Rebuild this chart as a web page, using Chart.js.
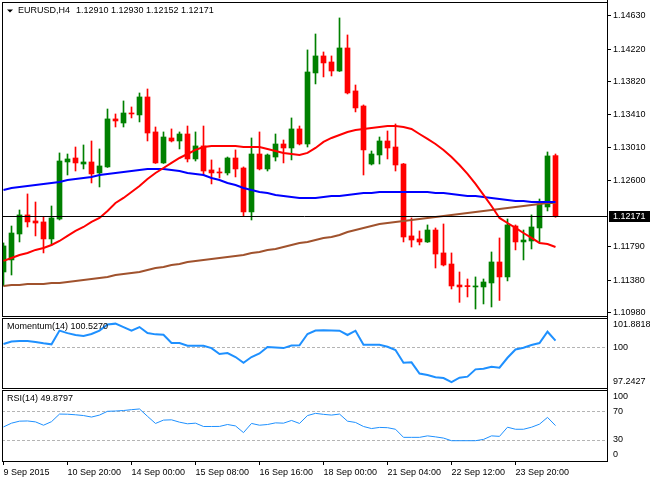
<!DOCTYPE html>
<html>
<head>
<meta charset="utf-8">
<title>EURUSD,H4</title>
<script src="https://cdn.jsdelivr.net/npm/chart.js@4.4.0/dist/chart.umd.min.js"></script>
<style>
html, body { margin: 0; padding: 0; background: #fff; }
#wrap { position: relative; width: 650px; height: 480px; overflow: hidden; }
.pane { position: absolute; left: 0; width: 650px; }
</style>
</head>
<body>
<div id="wrap">
  <div class="pane" style="top:0;height:317px"><canvas id="priceChart"></canvas></div>
  <div class="pane" style="top:317px;height:72px"><canvas id="momChart"></canvas></div>
  <div class="pane" style="top:389px;height:91px"><canvas id="rsiChart"></canvas></div>
</div>
<script>
// ================== DATA ==================
const symbol = 'EURUSD,H4';

const opens = [
  1.11480, 1.11628, 1.11947, 1.12181, 1.12107, 1.12095, 1.11886, 1.12131, 1.12832, 1.12881,
  1.12807, 1.12832, 1.12697, 1.12771, 1.13361, 1.13311, 1.13434, 1.13410, 1.13631, 1.13201,
  1.12820, 1.13127, 1.13090, 1.13176, 1.12869, 1.13029, 1.12734, 1.12709, 1.12697, 1.12881,
  1.12758, 1.12218, 1.12930, 1.12746, 1.12893, 1.13053, 1.13004, 1.13238, 1.13053, 1.13926,
  1.14135, 1.14061, 1.13950, 1.14233, 1.13705, 1.13520, 1.12807, 1.12918, 1.13090, 1.13016,
  1.12807, 1.11923, 1.11886, 1.11849, 1.11996, 1.11714, 1.11578, 1.11320, 1.11308, 1.11296,
  1.11296, 1.11345, 1.11603, 1.11419, 1.12045, 1.11849, 1.11861, 1.12021, 1.12279, 1.12910
];
const highs = [
  1.11837, 1.12045, 1.12242, 1.12439, 1.12340, 1.12156, 1.12291, 1.12943, 1.12930, 1.13016,
  1.13041, 1.13090, 1.12992, 1.13483, 1.13422, 1.13582, 1.13508, 1.13680, 1.13729, 1.13262,
  1.13201, 1.13238, 1.13201, 1.13274, 1.13201, 1.13274, 1.12857, 1.12758, 1.12893, 1.12980,
  1.12771, 1.13127, 1.13201, 1.12930, 1.13176, 1.13102, 1.13373, 1.13274, 1.14209, 1.14405,
  1.14184, 1.14135, 1.14602, 1.14393, 1.13778, 1.13533, 1.12967, 1.13139, 1.13213, 1.13299,
  1.12814, 1.12144, 1.11984, 1.12058, 1.12021, 1.12070, 1.11714, 1.11480, 1.11394, 1.11419,
  1.11394, 1.11726, 1.11898, 1.12132, 1.12058, 1.11996, 1.12181, 1.12377, 1.12955, 1.12930
];
const lows = [
  1.11308, 1.11443, 1.11849, 1.12033, 1.11923, 1.11714, 1.11812, 1.12119, 1.12672, 1.12721,
  1.12746, 1.12574, 1.12525, 1.12765, 1.13262, 1.13262, 1.13373, 1.13324, 1.13090, 1.12814,
  1.12814, 1.13078, 1.12992, 1.12832, 1.12844, 1.12672, 1.12562, 1.12635, 1.12672, 1.12648,
  1.12168, 1.12119, 1.12734, 1.12721, 1.12844, 1.12820, 1.12857, 1.13041, 1.13016, 1.13791,
  1.13877, 1.13889, 1.13944, 1.13668, 1.13447, 1.12672, 1.12795, 1.12807, 1.12869, 1.12721,
  1.11849, 1.11787, 1.11812, 1.11843, 1.11529, 1.11554, 1.11271, 1.11107, 1.11173, 1.11025,
  1.11087, 1.11050, 1.11130, 1.11370, 1.11751, 1.11628, 1.11763, 1.11837, 1.12230, 1.12152
];
const closes = [
  1.11800, 1.11959, 1.12181, 1.12095, 1.12082, 1.11886, 1.12144, 1.12844, 1.12869, 1.12820,
  1.12832, 1.12685, 1.12783, 1.13361, 1.13336, 1.13434, 1.13422, 1.13631, 1.13188, 1.12820,
  1.13139, 1.13090, 1.13176, 1.12869, 1.13029, 1.12721, 1.12697, 1.12697, 1.12881, 1.12746,
  1.12218, 1.12930, 1.12746, 1.12918, 1.13053, 1.13004, 1.13238, 1.13053, 1.13938, 1.14135,
  1.14049, 1.13950, 1.14233, 1.13680, 1.13496, 1.12980, 1.12930, 1.13090, 1.13004, 1.12795,
  1.11910, 1.11873, 1.11849, 1.11996, 1.11701, 1.11566, 1.11308, 1.11296, 1.11300, 1.11308,
  1.11357, 1.11603, 1.11419, 1.12058, 1.11849, 1.11873, 1.12033, 1.12316, 1.12906, 1.12171
];

// moving averages (red / blue / brown)
const maRed = [
  1.11616, 1.11652, 1.11689, 1.11714, 1.11751, 1.11775, 1.11812, 1.11861, 1.11923, 1.11984,
  1.12033, 1.12095, 1.12144, 1.12230, 1.12328, 1.12390, 1.12463, 1.12537, 1.12623, 1.12697,
  1.12758, 1.12820, 1.12881, 1.12930, 1.12980, 1.13016, 1.13029, 1.13029, 1.13029, 1.13029,
  1.13016, 1.13016, 1.13016, 1.12992, 1.12967, 1.12943, 1.12930, 1.12918, 1.12943, 1.13004,
  1.13078, 1.13127, 1.13164, 1.13201, 1.13225, 1.13238, 1.13250, 1.13262, 1.13274, 1.13274,
  1.13262, 1.13238, 1.13176, 1.13115, 1.13053, 1.12980, 1.12893, 1.12795, 1.12685, 1.12562,
  1.12427, 1.12291, 1.12144, 1.12082, 1.12021, 1.11959, 1.11898, 1.11837, 1.11824, 1.11787
];
const maBlue = [
  1.12488, 1.12513, 1.12525, 1.12537, 1.12549, 1.12562, 1.12574, 1.12586, 1.12611, 1.12623,
  1.12635, 1.12648, 1.12672, 1.12685, 1.12697, 1.12709, 1.12721, 1.12734, 1.12746, 1.12746,
  1.12746, 1.12734, 1.12721, 1.12697, 1.12685, 1.12672, 1.12635, 1.12611, 1.12574, 1.12549,
  1.12513, 1.12488, 1.12463, 1.12451, 1.12427, 1.12414, 1.12402, 1.12390, 1.12390, 1.12390,
  1.12402, 1.12414, 1.12414, 1.12427, 1.12439, 1.12451, 1.12451, 1.12463, 1.12463, 1.12463,
  1.12463, 1.12463, 1.12463, 1.12463, 1.12451, 1.12451, 1.12439, 1.12427, 1.12414, 1.12414,
  1.12402, 1.12390, 1.12377, 1.12365, 1.12353, 1.12353, 1.12340, 1.12340, 1.12340, 1.12340
];
const maBrown = [
  1.11308, 1.11320, 1.11320, 1.11333, 1.11333, 1.11333, 1.11345, 1.11345, 1.11357, 1.11370,
  1.11382, 1.11394, 1.11407, 1.11419, 1.11443, 1.11456, 1.11468, 1.11480, 1.11505, 1.11529,
  1.11541, 1.11566, 1.11578, 1.11603, 1.11616, 1.11628, 1.11640, 1.11652, 1.11665, 1.11677,
  1.11689, 1.11714, 1.11726, 1.11751, 1.11763, 1.11787, 1.11812, 1.11837, 1.11849, 1.11873,
  1.11898, 1.11910, 1.11935, 1.11972, 1.11996, 1.12021, 1.12045, 1.12070, 1.12082, 1.12095,
  1.12107, 1.12119, 1.12132, 1.12144, 1.12156, 1.12168, 1.12181, 1.12193, 1.12205, 1.12218,
  1.12230, 1.12242, 1.12254, 1.12267, 1.12279, 1.12291, 1.12304, 1.12316, 1.12328, 1.12328
];

const momentum = [
  100.26, 100.46, 100.50, 100.50, 100.42, 100.32, 100.24, 101.33, 101.13, 100.98,
  100.90, 101.06, 101.33, 101.81, 101.8818, 101.61, 101.32, 101.61, 101.13, 101.03,
  101.00, 100.34, 100.34, 100.13, 100.13, 100.13, 99.94, 99.47, 99.55, 99.23,
  98.78, 99.23, 99.51, 100.02, 99.98, 99.94, 100.14, 100.16, 101.06, 101.33,
  101.35, 101.33, 101.32, 100.98, 101.32, 100.21, 100.21, 100.21, 100.05, 99.79,
  98.78, 98.81, 97.92, 97.80, 97.62, 97.56, 97.2427, 97.59, 97.67, 98.25,
  98.30, 98.46, 98.38, 99.17, 99.83, 99.97, 100.18, 100.34, 101.24, 100.5270
];
const rsi = [
  48.0, 53.3, 56.1, 56.4, 55.1, 50.4, 55.4, 66.1, 65.9, 65.1,
  64.0, 61.9, 64.7, 70.0, 70.4, 71.1, 72.3, 73.3, 62.9, 52.9,
  57.6, 58.0, 54.7, 52.4, 53.3, 48.6, 48.6, 48.7, 51.4, 49.4,
  40.0, 52.9, 50.4, 51.4, 53.7, 53.3, 57.1, 52.9, 64.0, 67.1,
  65.7, 64.7, 66.1, 56.1, 54.3, 48.6, 45.7, 47.3, 46.9, 44.7,
  33.3, 33.3, 33.3, 35.4, 34.0, 32.3, 28.6, 28.6, 28.6, 28.6,
  30.4, 35.4, 34.7, 47.6, 44.7, 44.7, 47.6, 51.9, 61.4, 49.8797
];

const timeTickIdx = [0, 8, 16, 24, 32, 40, 48, 56, 64];
const timeLabels = ['9 Sep 2015', '10 Sep 20:00', '14 Sep 00:00', '15 Sep 08:00', '16 Sep 16:00',
                    '18 Sep 00:00', '21 Sep 04:00', '22 Sep 12:00', '23 Sep 20:00'];

const priceTicks = [1.10980, 1.11380, 1.11790, 1.12600, 1.13010, 1.13410, 1.13820, 1.14220, 1.14630];
const momentumTicks = [101.8818, 100, 97.2427];
const momentumLevels = [100];
const rsiTicks = [100, 70, 30, 0];
const rsiLevels = [70, 30];

// ================== CONFIG ==================
Chart.defaults.font.family = '"Liberation Sans", Arial, sans-serif';
Chart.defaults.font.size = 9;
Chart.defaults.color = '#000';
Chart.defaults.animation = false;

const FONT = '9px "Liberation Sans", Arial, sans-serif';
const X_MIN = -0.1875, X_MAX = 75.4375;
const AXIS_W = 43;

const pts = arr => arr.map((v, i) => ({ x: i, y: v }));
const candleColors = closes.map((c, i) => c >= opens[i] ? '#008000' : '#ff0000');

function fixRightAxis(scale) {
    scale.width = AXIS_W;
    scale.paddingTop = 0;
    scale.paddingBottom = 0;
}

function hiddenX() {
    return { type: 'linear', min: X_MIN, max: X_MAX, offset: false, display: false };
}

function fmtLevel(v) {
    return Number.isInteger(v) ? String(v) : v.toFixed(4);
}

// ================== PLUGINS ==================
const frame = {
    id: 'frame',
    afterDraw(chart) {
        const { ctx, chartArea: a } = chart;
        ctx.save();
        ctx.strokeStyle = '#000';
        ctx.lineWidth = 1;
        ctx.strokeRect(Math.round(a.left) + 0.5, Math.round(a.top) + 0.5,
                       Math.round(a.right - a.left), Math.round(a.bottom - a.top));
        ctx.beginPath();
        ctx.moveTo(Math.round(a.right) + 0.5, 0);
        ctx.lineTo(Math.round(a.right) + 0.5, Math.round(a.bottom) + 1);
        ctx.stroke();
        ctx.restore();
    }
};

const paneTitle = {
    id: 'paneTitle',
    afterDraw(chart, args, opts) {
        if (!opts.text) return;
        const { ctx, chartArea: a } = chart;
        const y = a.top + 9;
        let x = a.left + 5;
        ctx.save();
        ctx.font = FONT;
        ctx.fillStyle = '#000';
        ctx.textBaseline = 'middle';
        if (opts.triangle) {
            ctx.beginPath();
            ctx.moveTo(x, y - 1.5);
            ctx.lineTo(x + 6, y - 1.5);
            ctx.lineTo(x + 3, y + 1.5);
            ctx.closePath();
            ctx.fill();
            x += 11;
        }
        ctx.fillText(opts.text, x, y);
        if (opts.values) {
            ctx.fillText(opts.values, x + ctx.measureText(opts.text).width + 6, y);
        }
        ctx.restore();
    }
};

const levels = {
    id: 'levels',
    beforeDatasetsDraw(chart, args, opts) {
        if (!opts.values) return;
        const { ctx, chartArea: a, scales } = chart;
        ctx.save();
        ctx.strokeStyle = '#b4b4b4';
        ctx.lineWidth = 1;
        ctx.setLineDash([3, 2]);
        opts.values.forEach(v => {
            const y = Math.round(scales.y.getPixelForValue(v)) + 0.5;
            ctx.beginPath();
            ctx.moveTo(a.left, y);
            ctx.lineTo(a.right, y);
            ctx.stroke();
        });
        ctx.restore();
    },
    afterDraw(chart, args, opts) {
        if (!opts.labels) return;
        const { ctx, chartArea: a, scales } = chart;
        ctx.save();
        ctx.font = FONT;
        ctx.fillStyle = '#000';
        ctx.textBaseline = 'middle';
        opts.labels.forEach(v => {
            const y = Math.min(Math.max(scales.y.getPixelForValue(v), a.top + 6.5), a.bottom - 6);
            ctx.fillText(fmtLevel(v), a.right + 6, y);
        });
        ctx.restore();
    }
};

const bidLine = {
    id: 'bidLine',
    afterDatasetsDraw(chart) {
        const { ctx, chartArea: a, scales } = chart;
        const y = Math.round(scales.y.getPixelForValue(closes[closes.length - 1])) + 0.5;
        ctx.save();
        ctx.strokeStyle = '#000';
        ctx.lineWidth = 1;
        ctx.beginPath();
        ctx.moveTo(a.left, y);
        ctx.lineTo(a.right, y);
        ctx.stroke();
        ctx.restore();
    },
    afterDraw(chart) {
        const { ctx, chartArea: a, scales } = chart;
        const y = Math.round(scales.y.getPixelForValue(closes[closes.length - 1]));
        ctx.save();
        ctx.fillStyle = '#000';
        ctx.fillRect(a.right + 2, y - 5, chart.width - a.right - 2, 11);
        ctx.fillStyle = '#fff';
        ctx.font = FONT;
        ctx.textBaseline = 'middle';
        ctx.fillText(closes[closes.length - 1].toFixed(5), a.right + 6, y + 0.5);
        ctx.restore();
    }
};

// ================== PRICE CHART ==================
new Chart(document.getElementById('priceChart'), {
    type: 'bar',
    data: {
        datasets: [
            { type: 'line', data: pts(maRed), borderColor: '#ff0000', borderWidth: 2, pointRadius: 0, order: 0 },
            { type: 'line', data: pts(maBlue), borderColor: '#0000ff', borderWidth: 2, pointRadius: 0, order: 0 },
            { type: 'line', data: pts(maBrown), borderColor: '#a0522d', borderWidth: 2, pointRadius: 0, order: 0 },
            {
                data: opens.map((o, i) => ({ x: i, y: [o, closes[i]] })),
                backgroundColor: candleColors, barThickness: 5, minBarLength: 1,
                grouped: false, borderWidth: 0, order: 1
            },
            {
                data: lows.map((l, i) => ({ x: i, y: [l, highs[i]] })),
                backgroundColor: candleColors, barThickness: 1,
                grouped: false, borderWidth: 0, order: 2
            }
        ]
    },
    options: {
        responsive: true,
        maintainAspectRatio: false,
        layout: { padding: { left: 2, top: 2, right: 0, bottom: 1 } },
        events: [],
        plugins: {
            legend: { display: false },
            tooltip: { enabled: false },
            paneTitle: {
                text: symbol, triangle: true,
                values: [opens, highs, lows, closes].map(a => a[a.length - 1].toFixed(5)).join(' ')
            }
        },
        scales: {
            x: hiddenX(),
            y: {
                position: 'right',
                min: 1.10939,
                max: 1.14798,
                afterBuildTicks: s => { s.ticks = priceTicks.map(v => ({ value: v })); },
                ticks: { padding: 2, callback: v => v.toFixed(5) },
                grid: { drawOnChartArea: false, tickLength: 4, color: '#000' },
                border: { display: false },
                afterFit: fixRightAxis
            }
        }
    },
    plugins: [frame, paneTitle, bidLine]
});

// ================== MOMENTUM ==================
new Chart(document.getElementById('momChart'), {
    type: 'line',
    data: {
        datasets: [{ data: pts(momentum), borderColor: '#1e90ff', borderWidth: 2, pointRadius: 0 }]
    },
    options: {
        responsive: true,
        maintainAspectRatio: false,
        layout: { padding: { left: 2, top: 1, right: 0, bottom: 1 } },
        events: [],
        plugins: {
            legend: { display: false },
            tooltip: { enabled: false },
            paneTitle: { text: 'Momentum(14) ' + momentum[momentum.length - 1].toFixed(4) },
            levels: { values: momentumLevels, labels: momentumTicks }
        },
        scales: {
            x: hiddenX(),
            y: {
                position: 'right', min: 96.77, max: 102.33,
                ticks: { display: false }, grid: { display: false }, border: { display: false },
                afterFit: fixRightAxis
            }
        }
    },
    plugins: [frame, paneTitle, levels]
});

// ================== RSI ==================
new Chart(document.getElementById('rsiChart'), {
    type: 'line',
    data: {
        datasets: [{ data: pts(rsi), borderColor: '#1e90ff', borderWidth: 1, pointRadius: 0 }]
    },
    options: {
        responsive: true,
        maintainAspectRatio: false,
        layout: { padding: { left: 2, top: 1, right: 0, bottom: 0 } },
        events: [],
        plugins: {
            legend: { display: false },
            tooltip: { enabled: false },
            paneTitle: { text: 'RSI(14) ' + rsi[rsi.length - 1].toFixed(4) },
            levels: { values: rsiLevels, labels: rsiTicks }
        },
        scales: {
            x: {
                type: 'linear', min: X_MIN, max: X_MAX, offset: false,
                afterBuildTicks: s => { s.ticks = timeTickIdx.map(v => ({ value: v })); },
                ticks: {
                    autoSkip: false, maxRotation: 0, align: 'start', padding: 2,
                    callback: (v, i) => timeLabels[i]
                },
                grid: { drawOnChartArea: false, tickLength: 4, color: '#000' },
                border: { display: false },
                afterFit: s => { s.height = 19; s.paddingLeft = 0; s.paddingRight = 0; }
            },
            y: {
                position: 'right', min: 0, max: 100,
                ticks: { display: false }, grid: { display: false }, border: { display: false },
                afterFit: fixRightAxis
            }
        }
    },
    plugins: [frame, paneTitle, levels]
});
</script>
</body>
</html>
